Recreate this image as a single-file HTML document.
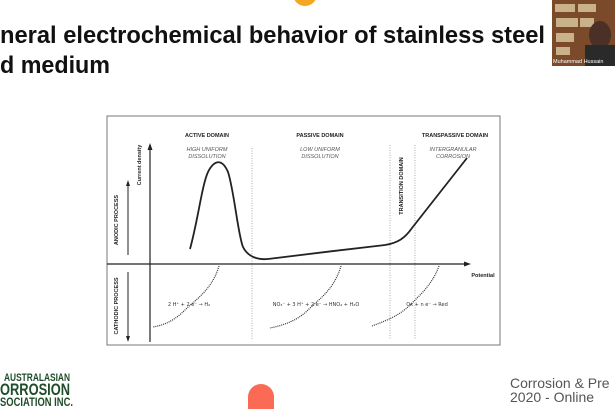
<!DOCTYPE html>
<html><head><meta charset="utf-8"><style>
html,body{margin:0;padding:0;background:#fff;}
svg{display:block;font-family:"Liberation Sans","DejaVu Sans",Arial,sans-serif;}
</style></head><body>
<svg width="615" height="409" viewBox="0 0 615 409" xmlns="http://www.w3.org/2000/svg">
<rect width="615" height="409" fill="#fff"/>
<circle cx="305" cy="-6" r="12" fill="#f5a623"/>
<text x="0" y="43" font-size="24" font-weight="bold" fill="#111" textLength="545" lengthAdjust="spacingAndGlyphs">neral electrochemical behavior of stainless steel</text>
<text x="0" y="73" font-size="24" font-weight="bold" fill="#111" textLength="110" lengthAdjust="spacingAndGlyphs">d medium</text>
<!-- webcam -->
<rect x="552" y="0" width="63" height="66" fill="#7a4a2a"/>
<g fill="#c9b28a"><rect x="555" y="4" width="20" height="8"/><rect x="578" y="4" width="18" height="8"/><rect x="556" y="18" width="22" height="9"/><rect x="580" y="18" width="14" height="9"/><rect x="556" y="33" width="18" height="9"/><rect x="556" y="47" width="14" height="8"/></g>
<ellipse cx="600" cy="35" rx="11" ry="14" fill="#4a3026"/>
<rect x="585" y="45" width="30" height="21" fill="#2a2a2a"/>
<text x="553" y="63" font-size="5.5" fill="#fff">Muhammad Hussain</text>
<!-- chart frame -->
<rect x="107" y="116" width="393" height="229" fill="#fff" stroke="#777" stroke-width="1"/>
<g font-size="5.5" font-weight="bold" fill="#222" text-anchor="middle">
<text x="207" y="137">ACTIVE DOMAIN</text>
<text x="320" y="137">PASSIVE DOMAIN</text>
<text x="455" y="137">TRANSPASSIVE DOMAIN</text>
</g>
<g font-size="5.5" font-style="italic" fill="#555" text-anchor="middle">
<text x="207" y="151">HIGH UNIFORM</text><text x="207" y="158">DISSOLUTION</text>
<text x="320" y="151">LOW UNIFORM</text><text x="320" y="158">DISSOLUTION</text>
<text x="453" y="151">INTERGRANULAR</text><text x="453" y="158">CORROSION</text>
</g>
<g stroke="#999" stroke-width="0.8" stroke-dasharray="1,1.5">
<line x1="252" y1="148" x2="252" y2="340"/><line x1="390" y1="145" x2="390" y2="340"/><line x1="415" y1="145" x2="415" y2="340"/>
</g>
<text transform="translate(403,186) rotate(-90)" font-size="5.5" font-weight="bold" fill="#222" text-anchor="middle">TRANSITION DOMAIN</text>
<!-- axes -->
<line x1="150" y1="342" x2="150" y2="148" stroke="#222" stroke-width="1.2"/>
<polygon points="150,143 147.5,150 152.5,150" fill="#222"/>
<line x1="107" y1="264" x2="466" y2="264" stroke="#222" stroke-width="1.2"/>
<polygon points="471,264 464,261.5 464,266.5" fill="#222"/>
<text x="483" y="277" font-size="5.5" font-weight="bold" fill="#222" text-anchor="middle">Potential</text>
<text transform="translate(141,165) rotate(-90)" font-size="5.5" font-weight="bold" fill="#222" text-anchor="middle">Current density</text>
<!-- process arrows -->
<line x1="128" y1="255" x2="128" y2="185" stroke="#222" stroke-width="1"/>
<polygon points="128,180 126,186 130,186" fill="#222"/>
<text transform="translate(118,220) rotate(-90)" font-size="5.5" font-weight="bold" fill="#222" text-anchor="middle">ANODIC PROCESS</text>
<line x1="128" y1="272" x2="128" y2="337" stroke="#222" stroke-width="1"/>
<polygon points="128,342 126,336 130,336" fill="#222"/>
<text transform="translate(118,306) rotate(-90)" font-size="5.5" font-weight="bold" fill="#222" text-anchor="middle">CATHODIC PROCESS</text>
<!-- curve -->
<path d="M190,249 C198,220 202,185 208,172 C214,160 222,158 228,172 C234,190 238,235 243,247 C248,257 258,260 268,259 C300,255 350,249 385,245 C398,243 405,238 412,228 L467,158" fill="none" stroke="#222" stroke-width="1.8"/>
<!-- cathodic dotted curves -->
<g fill="none" stroke="#333" stroke-width="1.2" stroke-dasharray="1,1">
<path d="M219,266 C212,290 195,300 185,310 C175,320 165,325 153,327"/>
<path d="M341,266 C334,290 318,300 308,310 C298,320 285,325 270,328"/>
<path d="M439,266 C432,285 420,295 410,305 C400,315 388,320 372,326"/>
</g>
<g font-size="5" fill="#333" text-anchor="middle" font-family="'DejaVu Sans',sans-serif">
<text x="189" y="306">2 H⁺ + 2 e⁻ → H₂</text>
<text x="316" y="306">NO₃⁻ + 3 H⁺ + 2 e⁻ → HNO₂ + H₂O</text>
<text x="427" y="306">Ox + n e⁻ → Red</text>
</g>
<!-- bottom -->
<g font-weight="bold" fill="#1f4d2a">
<text x="4" y="381" font-size="11" textLength="66" lengthAdjust="spacingAndGlyphs">AUSTRALASIAN</text>
<text x="0" y="395" font-size="17" textLength="70" lengthAdjust="spacingAndGlyphs">ORROSION</text>
<text x="0" y="406" font-size="12" textLength="73" lengthAdjust="spacingAndGlyphs">SOCIATION INC.</text>
</g>
<rect x="248" y="384" width="26" height="40" rx="13" fill="#fa6a55"/>
<text x="510" y="388" font-size="14" fill="#555">Corrosion &amp; Pre</text>
<text x="510" y="402" font-size="14" fill="#555">2020 - Online</text>
</svg>
</body></html>
